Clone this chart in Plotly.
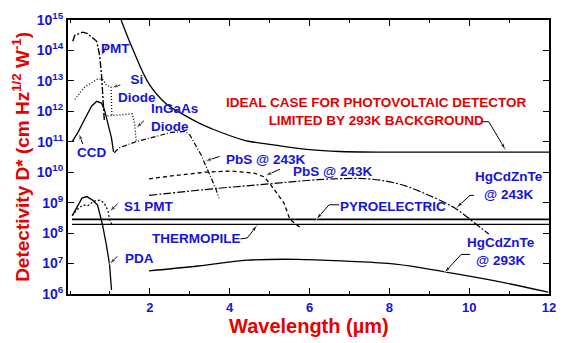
import numpy as np
import plotly.graph_objects as go

# ---------------- data (wavelength in um, detectivity as log10 exponent) ----------------
ideal_wl = [1.28, 1.56, 1.98, 2.4, 2.9, 3.21, 3.53, 4.37, 5.19, 6.0, 6.74, 8.0, 10.1, 12.0]
ideal_logd = [15.0, 14.08, 12.9, 12.26, 11.85, 11.63, 11.44, 11.05, 10.88, 10.74, 10.68, 10.66, 10.66, 10.66]

pmt_wl = [0.07, 0.12, 0.32, 0.44, 0.67, 0.74, 0.79, 0.82, 0.86]
pmt_logd = [14.3, 14.5, 14.6, 14.55, 14.3, 13.86, 13.2, 12.4, 11.7]

si_wl = [0.12, 0.37, 0.69, 0.81, 0.91, 1.03, 1.05]
si_logd = [12.39, 12.8, 13.06, 13.06, 12.87, 12.8, 11.85]

ingaas_wl = [0.94, 1.3, 1.56, 1.62, 1.66]
ingaas_logd = [11.85, 11.88, 11.92, 11.6, 11.0]

ccd_wl = [0.05, 0.2, 0.37, 0.54, 0.67, 0.79, 0.86, 0.94, 1.04, 1.09]
ccd_logd = [11.0, 11.31, 11.75, 12.17, 12.33, 12.27, 12.07, 11.63, 11.12, 10.67]

pbs1_wl = [1.11, 1.23, 1.65, 2.05, 2.54, 2.89, 3.01, 3.14, 3.28, 3.46, 3.65, 3.73]
pbs1_logd = [10.64, 10.8, 11.0, 11.15, 11.31, 11.34, 11.21, 10.9, 10.58, 10.04, 9.47, 9.15]

pbs2_wl = [1.98, 2.54, 3.38, 4.02, 4.62, 4.86, 5.01, 5.36, 5.51, 5.78]
pbs2_logd = [9.78, 9.88, 10.0, 10.04, 9.97, 9.85, 9.62, 8.99, 8.45, 8.17]

hg243_wl = [1.98, 3.7, 5.01, 5.85, 6.59, 7.48, 8.22, 8.89, 9.63, 10.12, 10.49]
hg243_logd = [9.24, 9.47, 9.62, 9.72, 9.78, 9.78, 9.62, 9.3, 8.83, 8.35, 7.97]

hg293_wl = [1.98, 3.21, 4.44, 5.68, 6.91, 8.15, 9.38, 10.62, 11.98]
hg293_logd = [6.76, 6.92, 7.11, 7.14, 7.08, 6.98, 6.73, 6.44, 6.06]

s1_wl = [0.05, 0.2, 0.32, 0.45, 0.6, 0.74, 0.85, 0.95, 0.99, 1.04]
s1_logd = [8.57, 8.8, 8.92, 8.9, 9.05, 9.08, 9.0, 8.75, 8.45, 8.3]

pda_wl = [0.07, 0.3, 0.42, 0.57, 0.69, 0.81, 0.91, 0.99, 1.04]
pda_logd = [8.6, 9.15, 9.2, 9.08, 8.92, 8.3, 7.62, 6.98, 6.13]

pyro_wl = [0.05, 12.0]
pyro_logd = [8.45, 8.45]

thermo_wl = [0.05, 12.0]
thermo_logd = [8.29, 8.29]

ytick_exp = [6, 7, 8, 9, 10, 11, 12, 13, 14, 15]
xtick_vals = [2, 4, 6, 8, 10, 12]

BLUE = "#1414dc"
RED = "#e60000"
FONT = "Liberation Sans, Arial, sans-serif"

fig = go.Figure()


def add_curve(wl, logd, dash="solid", width=1.3, shape="linear"):
    fig.add_trace(go.Scatter(
        x=wl, y=10 ** np.array(logd, dtype=float), mode="lines",
        line=dict(color="black", width=width, dash=dash, shape=shape),
        hoverinfo="skip", showlegend=False))


add_curve(ideal_wl, ideal_logd, "solid", 1.3, "spline")
add_curve(pmt_wl, pmt_logd, "7px,2px,2px,2px", 1.4)
add_curve(si_wl, si_logd, "1px,2px", 1.3)
add_curve(ingaas_wl, ingaas_logd, "1px,2px", 1.3)
add_curve(ccd_wl, ccd_logd, "solid", 1.3)
add_curve(pbs1_wl, pbs1_logd, "5px,2px,1px,2px", 1.2)
add_curve(pbs2_wl, pbs2_logd, "4px,3px", 1.3)
add_curve(hg243_wl, hg243_logd, "8px,2px,2px,2px", 1.2, "spline")
add_curve(hg293_wl, hg293_logd, "solid", 1.3, "spline")
add_curve(s1_wl, s1_logd, "2px,2px", 1.2)
add_curve(pda_wl, pda_logd, "solid", 1.3)
add_curve(pyro_wl, pyro_logd, "solid", 1.8)
add_curve(thermo_wl, thermo_logd, "solid", 1.3)


# ---------------- leader arrows (polyline + arrow-head marker at the tip) ----------------
def arrow(wls, logds):
    n = len(wls)
    fig.add_trace(go.Scatter(
        x=wls, y=10 ** np.array(logds, dtype=float), mode="lines+markers",
        line=dict(color="black", width=1),
        marker=dict(symbol="arrow", angleref="previous", color="black",
                    size=[0] * (n - 1) + [7]),
        hoverinfo="skip", showlegend=False, cliponaxis=False))


arrow([0.91, 0.79], [14.14, 13.82])                      # PMT
arrow([1.26, 1.04], [12.87, 12.77])                      # Si diode
arrow([1.85, 1.65], [11.69, 11.44])                      # InGaAs diode
arrow([0.32, 0.22], [10.93, 11.28])                      # CCD
arrow([1.19, 0.99], [8.96, 8.70])                        # S1 PMT
arrow([1.19, 0.99], [7.24, 6.98])                        # PDA
arrow([4.27, 4.44, 4.69], [7.81, 7.84, 8.26])            # thermopile
arrow([3.75, 3.38], [10.52, 10.36])                      # PbS 1
arrow([5.26, 4.89], [10.10, 9.88])                       # PbS 2
arrow([6.74, 6.49, 6.17], [8.93, 8.93, 8.45])            # pyroelectric
arrow([10.12, 10.02, 9.68], [9.24, 9.24, 8.83])          # HgCdZnTe 243K
arrow([10.02, 9.80, 9.38], [7.30, 7.30, 6.70])           # HgCdZnTe 293K
arrow([10.30, 10.49, 10.91], [11.66, 11.66, 10.74])      # ideal case

annotations = []


def label(text, x, y, color=BLUE, size=13.5, xanchor="center", align="center"):
    annotations.append(dict(
        x=x, y=y, xref="x", yref="y", text=text, showarrow=False,
        font=dict(family=FONT, size=size, color=color),
        xanchor=xanchor, yanchor="middle", align=align))


label("<b>PMT</b>", 1.14, 14.08)
label("<b>Si<br>Diode</b>", 1.68, 12.74)
label("<b>InGaAs<br>Diode</b>", 1.98, 11.80, xanchor="left", align="left")
label("<b>CCD</b>", 0.54, 10.64)
label("<b>S1 PMT</b>", 1.98, 8.89)
label("<b>PDA</b>", 1.73, 7.18)
label("<b>THERMOPILE</b>", 3.16, 7.81)
label("<b>PbS @ 243K</b>", 4.89, 10.42)
label("<b>PbS @ 243K</b>", 6.57, 10.04)
label("<b>PYROELECTRIC</b>", 8.1, 8.89)
label("<b>HgCdZnTe<br>@ 243K</b>", 10.99, 9.58)
label("<b>HgCdZnTe<br>@ 293K</b>", 10.79, 7.40)
label("<b>IDEAL CASE FOR PHOTOVOLTAIC DETECTOR<br>LIMITED BY 293K BACKGROUND</b>",
      7.68, 12.01, color=RED, size=13.5)

# axis titles
annotations.append(dict(
    x=-0.098, y=0.5, xref="paper", yref="paper", textangle=-90,
    text="<b>Detectivity D* (cm Hz<sup>1/2</sup> W<sup>-1</sup>)</b>",
    showarrow=False, font=dict(family=FONT, size=19, color=RED),
    xanchor="center", yanchor="middle"))
annotations.append(dict(
    x=0.5, y=-0.117, xref="paper", yref="paper",
    text="<b>Wavelength (\u00b5m)</b>", showarrow=False,
    font=dict(family=FONT, size=20, color=RED),
    xanchor="center", yanchor="middle"))

fig.update_layout(
    width=566, height=343,
    margin=dict(l=68, r=10, t=11, b=49),
    paper_bgcolor="white", plot_bgcolor="white",
    showlegend=False,
    annotations=annotations,
    font=dict(family=FONT),
)

fig.update_xaxes(
    range=[-0.05, 12], tickvals=xtick_vals,
    ticktext=["<b>%d</b>" % v for v in xtick_vals],
    tickfont=dict(family=FONT, size=13, color=BLUE),
    showgrid=False, zeroline=False,
    showline=True, linecolor="black", linewidth=2, mirror="allticks",
    ticks="inside", ticklen=6, tickcolor="black", tickwidth=1.2,
    minor=dict(dtick=1, ticks="inside", ticklen=3, tickcolor="black", tickwidth=1),
)
fig.update_yaxes(
    type="log", range=[6, 15],
    tickvals=[10.0 ** e for e in ytick_exp],
    ticktext=["<b>10<sup>%d</sup></b>" % e for e in ytick_exp],
    tickfont=dict(family=FONT, size=14, color=BLUE),
    showgrid=False, zeroline=False,
    showline=True, linecolor="black", linewidth=2, mirror="allticks",
    ticks="inside", ticklen=6, tickcolor="black", tickwidth=1.2,
)

fig.write_html("out.html")
